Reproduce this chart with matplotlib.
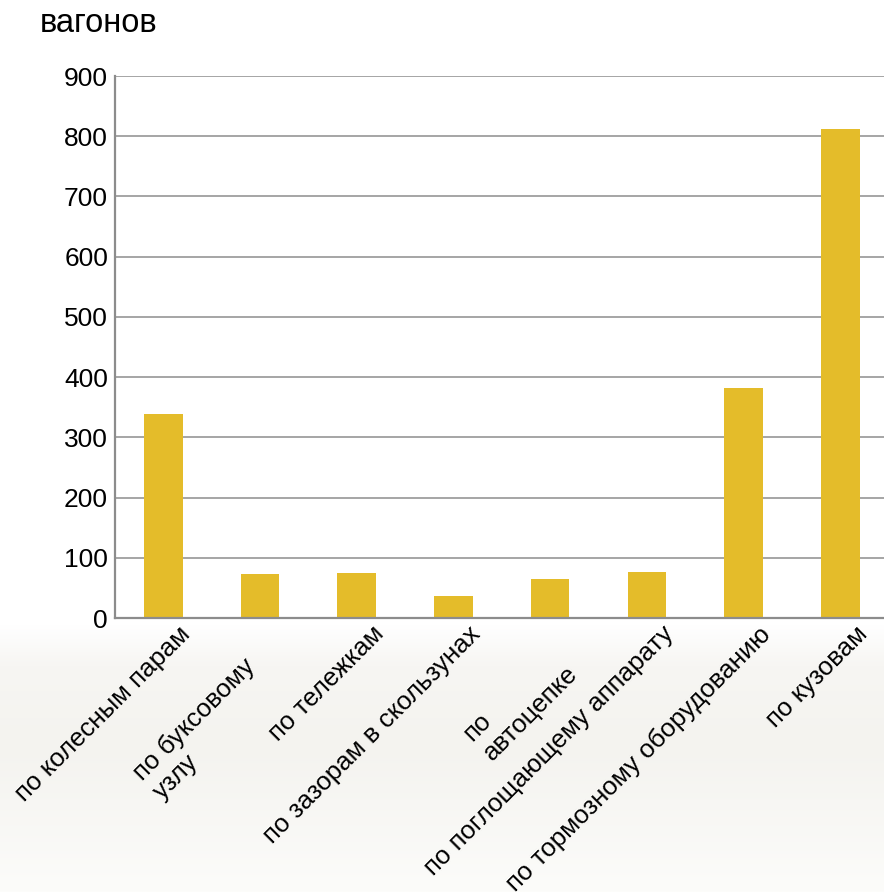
import numpy as np
import matplotlib
matplotlib.use("Agg")
import matplotlib.pyplot as plt
from matplotlib.colors import LinearSegmentedColormap
from matplotlib.transforms import ScaledTranslation

# ── data ─────────────────────────────────────────────
categories = [
    "по колесным парам",
    "по буксовому\nузлу",
    "по тележкам",
    "по зазорам в скользунах",
    "по\nавтоцепке",
    "по поглощающему аппарату",
    "по тормозному оборудованию",
    "по кузовам",
]
values = [339, 73, 75, 36, 65, 76, 382, 812]
y_ticks = [0, 100, 200, 300, 400, 500, 600, 700, 800, 900]
y_label = "вагонов"

BAR_COLOR = "#E4BC2A"
GRID_COLOR = "#9E9E9E"
AXIS_COLOR = "#8C8C8C"

plt.rcParams["font.family"] = ["Liberation Sans", "DejaVu Sans"]

fig = plt.figure(figsize=(8.84, 8.92), dpi=100)
fig.patch.set_facecolor("white")

# faint background shading under the plot area (white -> light grey -> near white)
bg = fig.add_axes([0, 0, 1, 0.30], zorder=-5)
grad = np.linspace(0, 1, 200)[:, None] * np.ones((1, 10))
bg_cmap = LinearSegmentedColormap.from_list(
    "bg", [(0.0, "#FCFCFA"), (0.55, "#F4F3EF"), (0.85, "#F7F6F3"), (1.0, "#FFFFFF")])
bg.imshow(grad, aspect="auto", origin="lower", extent=[0, 1, 0, 1], cmap=bg_cmap)
bg.set_axis_off()

ax = fig.add_axes([115 / 884, 274 / 892, 773.6 / 884, 542 / 892])
ax.set_facecolor("white")

x = np.arange(len(categories))
ax.bar(x, values, width=0.40, color=BAR_COLOR, zorder=3)

ax.set_xlim(-0.5, len(categories) - 0.5)
ax.set_ylim(0, 900)
ax.set_yticks(y_ticks)
ax.set_yticklabels([str(v) for v in y_ticks], fontsize=19)
ax.tick_params(axis="y", length=0, pad=5)
ax.tick_params(axis="x", length=0, labelbottom=False)
ax.yaxis.grid(True, color=GRID_COLOR, linewidth=1.3, zorder=0)
ax.set_axisbelow(True)

for side in ("top", "right"):
    ax.spines[side].set_visible(False)
for side in ("left", "bottom"):
    ax.spines[side].set_color(AXIS_COLOR)
    ax.spines[side].set_linewidth(1.6)
    ax.spines[side].set_zorder(4)

# rotated category labels (wrapped ones sit further back along the text line)
shift_back = {1: 45, 4: 28}
for i, lab in enumerate(categories):
    s = shift_back.get(i, 0) / 1.4142
    off = ScaledTranslation((15 - s) / 100, (-4 - s) / 100, fig.dpi_scale_trans)
    ax.text(i, 0, lab, transform=ax.get_xaxis_transform() + off,
            rotation=45, rotation_mode="anchor", ha="right", va="top",
            multialignment="left", fontsize=18.6, linespacing=1.2)

fig.text(40 / 884, 1 - 23 / 892, y_label, fontsize=23.5, ha="left", va="center")

fig.savefig("out.png", dpi=100, facecolor=fig.get_facecolor())
